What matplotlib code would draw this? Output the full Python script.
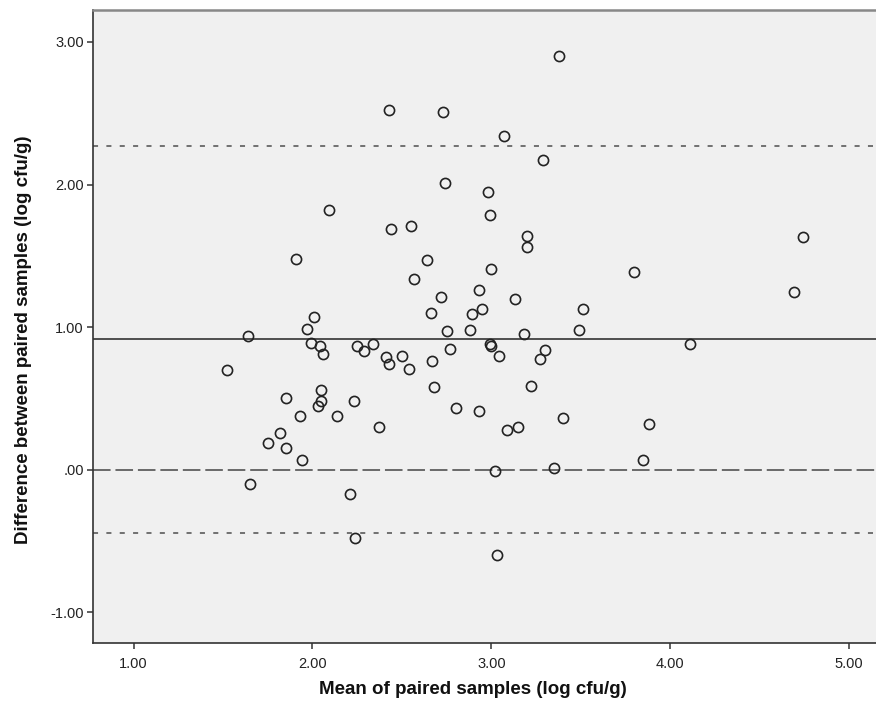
import matplotlib
matplotlib.use("Agg")
import matplotlib.pyplot as plt

plt.rcParams['font.family'] = ['Liberation Sans', 'DejaVu Sans']

# mean of paired samples (log cfu/g) and difference between them
mean_vals = [
    3.38, 2.43, 2.73, 3.07, 3.29, 2.74, 2.98, 2.09, 2.99, 2.44,
    2.55, 3.20, 3.20, 4.74, 1.91, 2.64, 3.00, 3.80, 2.57, 4.69,
    2.93, 2.72, 3.13, 2.95, 3.51, 2.66, 2.89, 2.01, 1.97, 2.88,
    3.49, 2.75, 1.64, 3.18, 1.99, 2.04, 2.06, 2.25, 2.34, 2.29,
    2.41, 2.50, 2.43, 2.54, 2.67, 2.77, 2.99, 3.00, 3.04, 3.30,
    3.27, 4.11, 1.52, 2.68, 3.22, 2.05, 1.85, 2.05, 2.03, 2.23,
    1.93, 2.14, 2.37, 2.80, 2.93, 3.40, 3.88, 3.09, 3.15, 1.75,
    1.82, 1.85, 1.94, 1.65, 2.21, 2.24, 3.02, 3.35, 3.85, 3.03,
]
diff_vals = [
    2.90, 2.52, 2.51, 2.34, 2.17, 2.01, 1.95, 1.82, 1.79, 1.69,
    1.71, 1.64, 1.56, 1.63, 1.48, 1.47, 1.41, 1.39, 1.34, 1.25,
    1.26, 1.21, 1.20, 1.13, 1.13, 1.10, 1.09, 1.07, 0.99, 0.98,
    0.98, 0.97, 0.94, 0.95, 0.89, 0.87, 0.81, 0.87, 0.88, 0.83,
    0.79, 0.80, 0.74, 0.71, 0.76, 0.85, 0.885, 0.865, 0.80, 0.84,
    0.78, 0.88, 0.70, 0.58, 0.59, 0.56, 0.50, 0.48, 0.45, 0.48,
    0.38, 0.38, 0.30, 0.43, 0.41, 0.36, 0.32, 0.28, 0.30, 0.19,
    0.26, 0.15, 0.07, -0.10, -0.17, -0.48, -0.01, 0.01, 0.07, -0.60,
]
mean_diff = 0.918
upper_loa = 2.272
lower_loa = -0.440

x_ticks = [1, 2, 3, 4, 5]
x_labels = ["1.00", "2.00", "3.00", "4.00", "5.00"]
y_ticks = [-1, 0, 1, 2, 3]
y_labels = ["-1.00", ".00", "1.00", "2.00", "3.00"]

fig = plt.figure(figsize=(8.76, 7.11), dpi=100)
ax = fig.add_axes([0.1067, 0.0956, 0.8933, 0.8903])
ax.set_facecolor('#f0f0f0')

ax.axhline(mean_diff, color='#222222', lw=1.1, zorder=1)
ax.axhline(0, color='#444444', lw=1.1, linestyle=(0, (11.5, 3.2)), zorder=1)
ax.axhline(upper_loa, color='#666666', lw=1.3, linestyle=(0, (2.8, 4.6)), zorder=1)
ax.axhline(lower_loa, color='#666666', lw=1.3, linestyle=(0, (2.8, 4.6)), zorder=1)

ax.plot(mean_vals, diff_vals, 'o', ms=7.3, mfc='none', mec='#222222', mew=1.2, zorder=3)

ax.set_xlim(0.776, 5.15)
ax.set_ylim(-1.215, 3.224)
ax.set_xticks(x_ticks)
ax.set_xticklabels(x_labels)
ax.set_yticks(y_ticks)
ax.set_yticklabels(y_labels)
ax.tick_params(length=4, width=1.1, color='#333333', labelsize=10.5, labelcolor='#222222')
ax.tick_params(axis='x', pad=6)
ax.tick_params(axis='y', pad=3)

for s in ['left', 'bottom']:
    ax.spines[s].set_color('#333333')
    ax.spines[s].set_linewidth(1.2)
ax.spines['top'].set_color('#888888')
ax.spines['top'].set_linewidth(1.8)
ax.spines['right'].set_visible(False)

ax.set_xlabel("Mean of paired samples (log cfu/g)", fontsize=13.5, fontweight='bold', color='#111111')
ax.set_ylabel("Difference between paired samples (log cfu/g)", fontsize=13.5, fontweight='bold',
              color='#111111', va='center')
ax.xaxis.set_label_coords(0.485, -0.060)
ax.yaxis.set_label_coords(-0.090, 0.479)

fig.savefig("out.png", dpi=100)
